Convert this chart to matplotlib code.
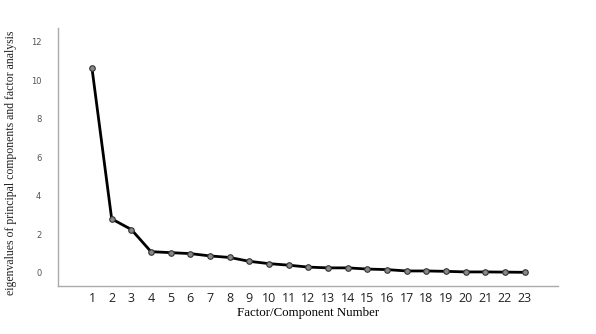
import matplotlib
matplotlib.use('Agg')
from matplotlib import pyplot as plt

components = list(range(1, 24))
eigenvalues = [10.6, 2.8, 2.25, 1.1, 1.05, 1.0, 0.88, 0.8, 0.6, 0.48, 0.4, 0.3,
               0.26, 0.26, 0.2, 0.17, 0.1, 0.1, 0.08, 0.05, 0.05, 0.04, 0.03]
y_ticks = [0, 2, 4, 6, 8, 10, 12]

fig = plt.figure(figsize=(5.96, 3.34), dpi=100)
ax = fig.add_axes([58 / 596, 48 / 334, 500 / 596, 258 / 334])

ax.plot(components, eigenvalues, color='black', linewidth=2,
        marker='o', markersize=4, markerfacecolor='#888888',
        markeredgecolor='#333333', markeredgewidth=0.8)

ax.set_xlim(-0.73, 24.7)
ax.set_ylim(-0.68, 12.7)
ax.set_xticks(components)
ax.set_yticks(y_ticks)
ax.tick_params(axis='x', length=0, pad=4, labelsize=9, labelcolor='#222222')
ax.tick_params(axis='y', length=0, pad=12, labelsize=6, labelcolor='#555555')
for lab in ax.get_xticklabels():
    lab.set_fontfamily('Open Sans')

for side in ['top', 'right']:
    ax.spines[side].set_visible(False)
for side in ['left', 'bottom']:
    ax.spines[side].set_color('#aaaaaa')
    ax.spines[side].set_linewidth(1)

ax.set_xlabel('Factor/Component Number', family='Liberation Serif',
              fontsize=9.3, labelpad=2)
ax.set_ylabel('eigenvalues of principal components and factor analysis',
              family='Liberation Serif', fontsize=8.5, color='#222222')
ax.yaxis.set_label_coords(-0.082, 0.477)

fig.savefig('out.png', dpi=100)
